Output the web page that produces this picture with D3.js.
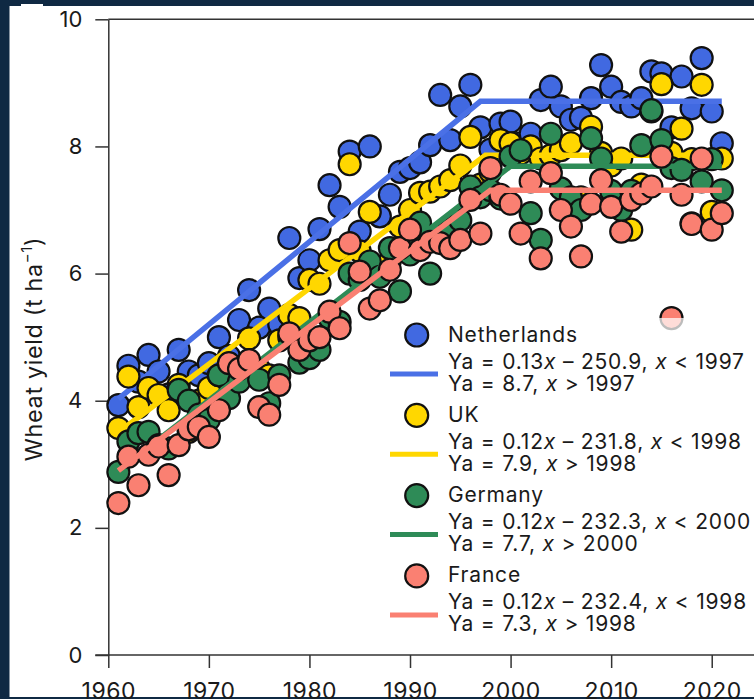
<!DOCTYPE html>
<html>
<head>
<meta charset="utf-8">
<script src="https://cdn.jsdelivr.net/npm/d3@7"></script>
<style>
  html, body { margin: 0; padding: 0; background: #0f2943; }
  svg { display: block; }
</style>
</head>
<body>
<div id="chart"></div>
<script>
// データ---------------------------------------------------------------------------------
const years = [1961, 1962, 1963, 1964, 1965, 1966, 1967, 1968, 1969, 1970,
  1971, 1972, 1973, 1974, 1975, 1976, 1977, 1978, 1979, 1980,
  1981, 1982, 1983, 1984, 1985, 1986, 1987, 1988, 1989, 1990,
  1991, 1992, 1993, 1994, 1995, 1996, 1997, 1998, 1999, 2000,
  2001, 2002, 2003, 2004, 2005, 2006, 2007, 2008, 2009, 2010,
  2011, 2012, 2013, 2014, 2015, 2016, 2017, 2018, 2019, 2020, 2021];
const netherlands = [3.93, 4.55, 4.30, 4.72, 4.46, 4.10, 4.80, 4.46, 4.40, 4.59,
  5.00, 4.70, 5.27, 5.74, 5.15, 5.45, 5.20, 6.56, 5.93, 6.21,
  6.70, 7.39, 7.05, 7.92, 6.66, 8.00, 6.90, 7.24, 7.60, 7.66,
  7.75, 8.02, 8.81, 8.10, 8.63, 8.97, 8.30, 7.95, 8.36, 8.39,
  8.05, 8.20, 8.73, 8.94, 8.63, 8.42, 8.45, 8.76, 9.28, 8.94,
  8.70, 8.63, 8.76, 9.18, 9.15, 8.30, 9.10, 8.60, 9.39, 8.55, 8.05];
const uk = [3.57, 4.38, 3.90, 4.20, 4.09, 3.85, 4.25, 3.51, 4.00, 4.20,
  4.40, 4.30, 4.45, 4.98, 4.50, 4.40, 4.95, 5.35, 5.30, 5.90,
  5.84, 6.21, 6.37, 7.72, 6.35, 6.97, 6.00, 6.20, 6.74, 7.00,
  7.27, 7.29, 7.37, 7.47, 7.70, 8.15, 7.40, 7.60, 8.10, 8.05,
  7.89, 8.00, 7.81, 7.86, 7.94, 8.05, 7.20, 8.31, 7.90, 7.70,
  7.81, 6.69, 7.40, 8.55, 8.98, 7.90, 8.28, 7.80, 8.97, 6.97, 7.81];
const germany = [2.88, 3.36, 3.49, 3.51, 3.30, 3.25, 4.17, 4.00, 3.78, 3.70,
  4.40, 4.04, 4.30, 4.60, 4.33, 3.96, 4.40, 5.00, 4.60, 4.67,
  4.80, 5.30, 5.24, 6.00, 5.90, 6.19, 5.95, 6.40, 5.72, 6.30,
  6.80, 6.00, 6.60, 6.70, 6.84, 7.37, 7.20, 7.31, 7.18, 7.84,
  7.94, 6.95, 6.53, 8.20, 7.34, 7.20, 7.00, 8.13, 7.81, 7.30,
  7.00, 7.30, 8.02, 8.57, 8.10, 7.66, 7.63, 6.79, 7.45, 7.80, 7.31];
const france = [2.39, 3.12, 2.67, 3.15, 3.28, 2.83, 3.30, 3.55, 3.59, 3.43,
  3.85, 4.59, 4.50, 4.64, 3.90, 3.78, 4.25, 5.06, 4.80, 4.95,
  5.00, 5.40, 5.14, 6.48, 6.03, 5.45, 5.58, 6.06, 6.40, 6.69,
  6.37, 6.50, 6.48, 6.40, 6.53, 7.16, 6.63, 7.66, 7.24, 7.10,
  6.63, 7.45, 6.24, 7.58, 7.00, 6.74, 6.27, 7.10, 7.47, 7.05,
  6.66, 7.16, 7.26, 7.37, 7.84, 5.30, 7.24, 6.78, 7.81, 6.69, 6.95];
// 折れ線回帰（屈曲点）-------------------------------------------------------------------
const fitNetherlands = [[1961, 4.03], [1997, 8.71], [2021, 8.71]];
const fitUk = [[1961, 3.50], [1997.5, 7.86], [2021, 7.86]];
const fitGermany = [[1961, 2.90], [2000, 7.69], [2021, 7.69]];
const fitFrance = [[1961, 2.90], [1998, 7.31], [2021, 7.31]];
// 凡例テキスト（|で斜体 x を区切る）------------------------------------------------------
const names = ['Netherlands', 'UK', 'Germany', 'France'];
const eqLine1 = ['Ya = 0.13|x| – 250.9, |x| < 1997', 'Ya = 0.12|x| – 231.8, |x| < 1998',
  'Ya = 0.12|x| – 232.3, |x| < 2000', 'Ya = 0.12|x| – 232.4, |x| < 1998'];
const eqLine2 = ['Ya = 8.7, |x| > 1997', 'Ya = 7.9, |x| > 1998', 'Ya = 7.7, |x| > 2000', 'Ya = 7.3, |x| > 1998'];
const xTicks = [1960, 1970, 1980, 1990, 2000, 2010, 2020];
const yTicks = [0, 2, 4, 6, 8, 10];

const fills = ['#4169e1', '#ffd700', '#2e8b57', '#fa8072'];
const lineColors = ['#4a70e6', '#ffd700', '#2e8b57', '#fa8072'];
const values = [netherlands, uk, germany, france];
const fits = [fitNetherlands, fitUk, fitGermany, fitFrance];

// SVG領域-------------------------------------------------------------------------------
const width = 754, height = 699;
const font = 'Inter, "Noto Sans", sans-serif';
const svg = d3.select('#chart').append('svg')
  .attr('width', width)
  .attr('height', height);
svg.append('rect').attr('width', width).attr('height', height).attr('fill', '#0f2943');
svg.append('rect').attr('x', 9.5).attr('y', 6).attr('width', width - 9.5).attr('height', 691).attr('fill', '#fff');
svg.append('rect').attr('x', 21).attr('y', 4).attr('width', 22).attr('height', 3).attr('fill', '#fff');

// スケール------------------------------------------------------------------------------
const xScale = d3.scaleLinear().domain([1960, 2025]).range([108.3, 108.3 + 65 * 10.057]);
const yScale = d3.scaleLinear().domain([0, 10]).range([655, 19.3]);

// 軸-----------------------------------------------------------------------------------
const gX = svg.append('g')
  .attr('transform', 'translate(0,' + yScale(0) + ')')
  .call(d3.axisBottom(xScale).tickValues(xTicks).tickFormat(d3.format('d'))
    .tickSize(13).tickSizeOuter(0).tickPadding(15));
const gY = svg.append('g')
  .attr('transform', 'translate(' + xScale(1960) + ',0)')
  .call(d3.axisLeft(yScale).tickValues(yTicks).tickSize(13).tickSizeOuter(0).tickPadding(13));
svg.append('line')
  .attr('x1', xScale(1960)).attr('x2', width)
  .attr('y1', yScale(10)).attr('y2', yScale(10))
  .attr('stroke', '#333').attr('stroke-width', 1.5);
gX.select('.domain').attr('d', 'M' + (xScale(1960) - 13) + ',0H' + width);
svg.selectAll('.domain, .tick line').attr('stroke', '#333').attr('stroke-width', 1.5);
svg.selectAll('.tick text').attr('font-family', font).attr('font-size', '22px').attr('fill', '#1a1a1a');
gX.selectAll('.tick text').attr('font-size', '23px').attr('letter-spacing', '0.5px');

// 縦軸ラベル----------------------------------------------------------------------------
const yLabel = svg.append('text')
  .attr('transform', 'translate(42,' + 349 + ') rotate(-90)')
  .attr('text-anchor', 'middle')
  .attr('font-family', font)
  .attr('font-size', '23.5px')
  .attr('letter-spacing', '0.6px')
  .attr('fill', '#1a1a1a');
yLabel.append('tspan').text('Wheat yield (t ha');
yLabel.append('tspan').text('−1').attr('font-size', '15px').attr('dy', '-10');
yLabel.append('tspan').text(')').attr('dy', '10');

// 散布図と回帰線------------------------------------------------------------------------
const line = d3.line().x(d => xScale(d[0])).y(d => yScale(d[1]));
values.forEach((vals, k) => {
  svg.append('g')
    .selectAll('circle')
    .data(years.map((yr, i) => ({ year: yr, value: vals[i] })))
    .enter()
    .append('circle')
    .attr('cx', d => xScale(d.year))
    .attr('cy', d => yScale(d.value))
    .attr('r', 11)
    .attr('fill', fills[k])
    .attr('stroke', '#111')
    .attr('stroke-width', 2.2);
  svg.append('path')
    .datum(fits[k])
    .attr('d', line)
    .attr('fill', 'none')
    .attr('stroke', lineColors[k])
    .attr('stroke-width', 5.5);
});

// 凡例----------------------------------------------------------------------------------
svg.append('rect')
  .attr('x', 385).attr('y', 318).attr('width', width - 385).attr('height', 328)
  .attr('fill', '#fff').attr('fill-opacity', 0.72);
const italicText = (sel, str) => {
  str.split('|').forEach((part, i) => {
    sel.append('tspan').text(part).attr('font-style', i % 2 ? 'italic' : 'normal');
  });
};
names.forEach((name, k) => {
  const top = 335 + k * 80.3;
  const lg = svg.append('g').attr('font-family', font).attr('fill', '#1a1a1a')
    .attr('font-size', '21px').attr('letter-spacing', '0.8px');
  lg.append('circle')
    .attr('cx', 416.7).attr('cy', top).attr('r', 11.5)
    .attr('fill', fills[k]).attr('stroke', '#111').attr('stroke-width', 2.2);
  lg.append('text').attr('x', 448).attr('y', top + 6.5).text(name);
  lg.append('line')
    .attr('x1', 390).attr('x2', 438).attr('y1', top + 39).attr('y2', top + 39)
    .attr('stroke', lineColors[k]).attr('stroke-width', 5);
  italicText(lg.append('text').attr('x', 448).attr('y', top + 33.5), eqLine1[k]);
  italicText(lg.append('text').attr('x', 448).attr('y', top + 55.5), eqLine2[k]);
});
</script>
</body>
</html>
